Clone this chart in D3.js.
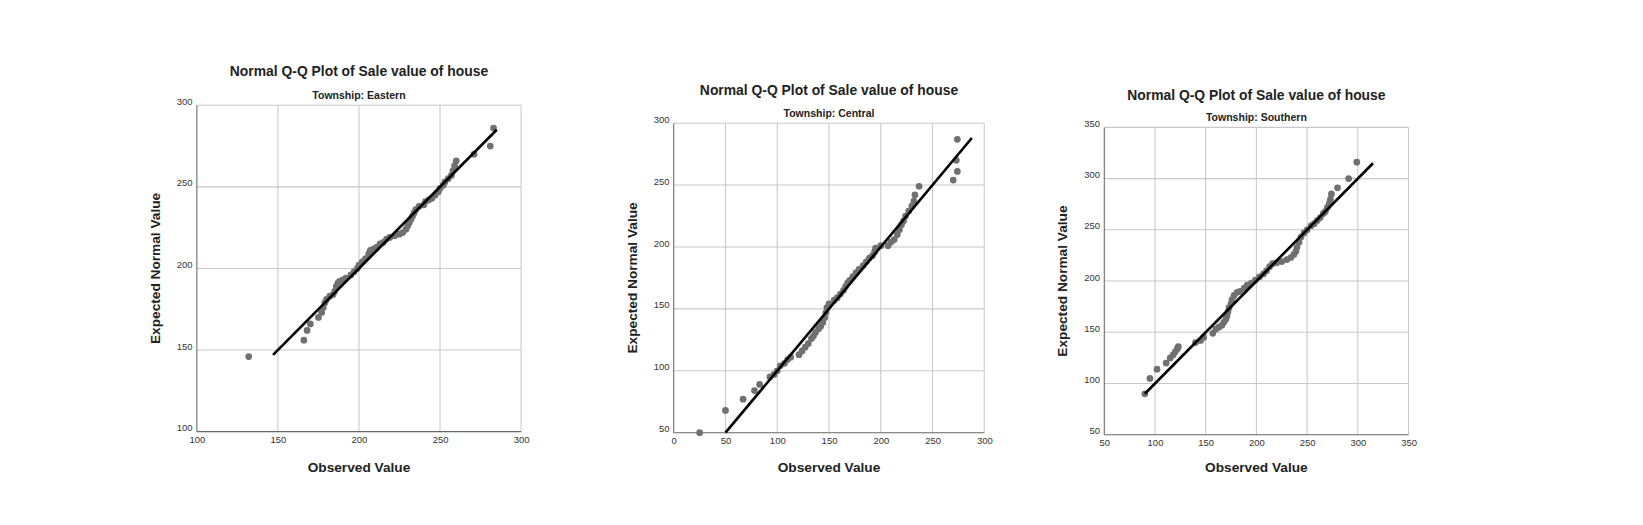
<!DOCTYPE html>
<html><head><meta charset="utf-8">
<script src="https://cdn.jsdelivr.net/npm/d3@7"></script>
<style>body{margin:0;background:#fff}text{font-family:"Liberation Sans",Arial,sans-serif}</style>
</head><body><svg id="c" width="1643" height="525"></svg>
<script>
const titles = ["Normal Q-Q Plot of Sale value of house","Normal Q-Q Plot of Sale value of house","Normal Q-Q Plot of Sale value of house"];
const subtitles = ["Township: Eastern","Township: Central","Township: Southern"];
const xDomains = [[100,300],[0,300],[50,350]];
const yDomains = [[100,300],[50,300],[50,350]];
const tickStep = [50,50,50];
const lineEnds = [[147,285],[50,288],[90,315]];
const eastern = [[132,146],[166,156],[168,162],[170,166],[175,170],[177,173],[178,176],[179,179],[180,181],[182,183],[184,184],[185,186],[186,189],[187,191],[188,192],[190,193],[192,194],[195,196],[197,198],[199,200],[200,202],[202,204],[204,206],[206,209],[207,211],[209,212],[211,213],[213,215],[215,216],[217,218],[219,219],[222,220],[225,221],[227,222],[229,224],[230,226],[231,228],[232,230],[233,232],[234,234],[235,236],[237,238],[240,239],[241,241],[243,242],[245,243],[247,245],[249,247],[250,249],[252,251],[253,253],[255,255],[257,257],[258,260],[259,263],[260,266],[271,270],[281,275],[283,286]];
const central = [[25,50],[50,68],[67,77],[78,84],[83,89],[93,95],[97,97],[100,100],[103,104],[107,106],[110,109],[113,111],[121,113],[124,116],[127,119],[130,122],[133,126],[135,128],[137,131],[140,134],[142,136],[144,139],[146,143],[147,147],[148,151],[150,154],[155,157],[158,159],[161,162],[164,165],[166,168],[168,171],[170,173],[173,176],[176,179],[179,182],[183,185],[186,188],[189,191],[192,193],[194,196],[195,199],[200,201],[207,201],[210,204],[213,206],[216,210],[218,214],[220,218],[222,221],[224,225],[227,229],[230,233],[232,237],[233,242],[237,249],[270,254],[274,261],[273,270],[274,287]];
const southern = [[90,90],[95,105],[102,114],[111,120],[115,125],[118,128],[120,131],[122,134],[123,136],[140,140],[145,142],[148,145],[157,149],[160,153],[163,155],[166,157],[168,160],[170,163],[171,166],[172,170],[173,174],[175,178],[176,182],[178,186],[181,189],[184,190],[188,193],[191,196],[195,198],[199,201],[203,204],[207,207],[210,210],[213,214],[216,217],[220,218],[225,219],[230,221],[234,223],[237,226],[239,229],[240,233],[242,238],[244,243],[247,247],[250,250],[254,254],[257,256],[260,259],[263,262],[266,266],[268,268],[270,272],[272,276],[273,280],[274,285],[280,291],[291,300],[299,316]];
const seriesList = [eastern, central, southern];
const boxes = [{x0:187,x1:495,y0:100,y1:410,ty:67,sy:90},{x0:640,x1:935,y0:117,y1:411,ty:85,sy:107},{x0:1049,x1:1338,y0:121,y1:413,ty:90,sy:111}];
const svg = d3.select("#c").append("g").attr("transform","scale(1.0527)");
boxes.forEach((b,i)=>{
  const x = d3.scaleLinear().domain(xDomains[i]).range([b.x0,b.x1]);
  const y = d3.scaleLinear().domain(yDomains[i]).range([b.y1,b.y0]);
  const xt = d3.range(xDomains[i][0], xDomains[i][1]+1, tickStep[i]);
  const yt = d3.range(yDomains[i][0], yDomains[i][1]+1, tickStep[i]);
  const g = svg.append("g");
  g.selectAll(".gx").data(xt.slice(1)).join("line").attr("x1",d=>x(d)).attr("x2",d=>x(d)).attr("y1",b.y0).attr("y2",b.y1).attr("stroke","#c8c8c8");
  g.selectAll(".gy").data(yt.slice(1)).join("line").attr("y1",d=>y(d)).attr("y2",d=>y(d)).attr("x1",b.x0).attr("x2",b.x1).attr("stroke","#c8c8c8");
  g.append("line").attr("x1",b.x0).attr("x2",b.x0).attr("y1",b.y0).attr("y2",b.y1).attr("stroke","#666");
  g.append("line").attr("x1",b.x0).attr("x2",b.x1).attr("y1",b.y1).attr("y2",b.y1).attr("stroke","#666");
  g.append("g").attr("transform",`translate(0,${b.y1})`).call(d3.axisBottom(x).tickValues(xt).tickSize(0).tickPadding(4)).call(a=>a.select(".domain").remove()).selectAll("text").attr("font-size",9).attr("fill","#333").style("font-family","Liberation Sans, Arial");
  g.append("g").attr("transform",`translate(${b.x0},0)`).call(d3.axisLeft(y).tickValues(yt).tickSize(0).tickPadding(4)).call(a=>a.select(".domain").remove()).selectAll("text").attr("font-size",9).attr("fill","#333").attr("dy","-0.1em").style("font-family","Liberation Sans, Arial");
  g.selectAll("circle").data(seriesList[i]).join("circle").attr("cx",d=>x(d[0])).attr("cy",d=>y(d[1])).attr("r",3.2).attr("fill","#707070");
  g.append("line").attr("x1",x(lineEnds[i][0])).attr("y1",y(lineEnds[i][0])).attr("x2",x(lineEnds[i][1])).attr("y2",y(lineEnds[i][1])).attr("stroke","#000").attr("stroke-width",2.5);
  const cx=(b.x0+b.x1)/2;
  g.append("text").attr("x",cx).attr("y",b.ty+5).attr("text-anchor","middle").attr("font-size",13.2).attr("font-weight","bold").attr("fill","#222").text(titles[i]);
  g.append("text").attr("x",cx).attr("y",b.sy+4).attr("text-anchor","middle").attr("font-size",10).attr("font-weight","bold").attr("fill","#222").text(subtitles[i]);
  g.append("text").attr("x",cx).attr("y",448).attr("text-anchor","middle").attr("font-size",13).attr("font-weight","bold").attr("fill","#222").text("Observed Value");
  g.append("text").attr("transform",`translate(${b.x0-35},${(b.y0+b.y1)/2}) rotate(-90)`).attr("text-anchor","middle").attr("font-size",13).attr("font-weight","bold").attr("fill","#222").text("Expected Normal Value");
});
</script></body></html>
